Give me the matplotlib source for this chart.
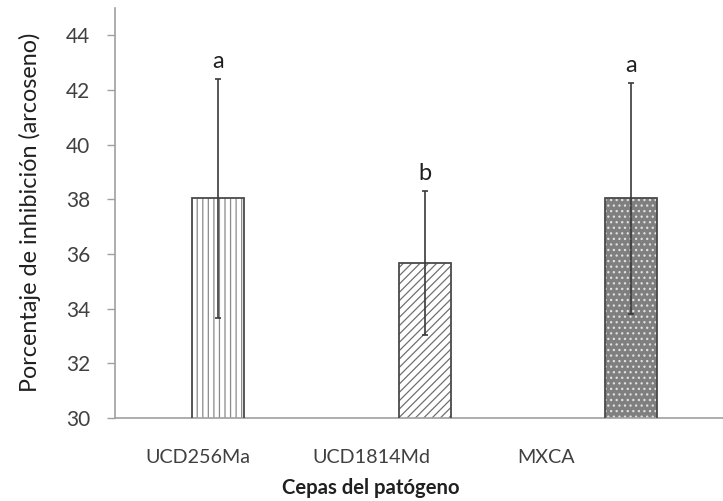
import matplotlib
matplotlib.use("Agg")
import matplotlib.pyplot as plt

categories = ["UCD256Ma", "UCD1814Md", "MXCA"]
means = [38.04, 35.67, 38.04]
errors = [4.37, 2.62, 4.22]
letters = ["a", "b", "a"]
yticks = [30, 32, 34, 36, 38, 40, 42, 44]

plt.rcParams['font.family'] = ['Lato', 'DejaVu Sans']
plt.rcParams['hatch.linewidth'] = 0.9

fig = plt.figure(figsize=(7.23, 5.01), dpi=100)
ax = fig.add_axes([115/723, 83/501, 619.5/723, 410/501])

x = list(range(len(categories)))
faces = ["white", "white", "#7f7f7f"]
hatchcols = ["#8a8a8a", "#707070", "#e0e0e0"]
hatches = ["|||", "////", "..."]
width = 0.252
for i in x:
    ax.bar(i, means[i], width=width, bottom=0, color=faces[i], edgecolor=hatchcols[i],
           hatch=hatches[i], linewidth=0, zorder=2)
    ax.bar(i, means[i], width=width, color="none", edgecolor="#4a4a4a", linewidth=1.3, zorder=3)
ax.errorbar(x, means, yerr=errors, fmt="none", ecolor="#3a3a3a", elinewidth=1.2,
            capsize=2.5, capthick=1.2, zorder=4)
for i in x:
    ax.text(i, means[i] + errors[i] + 0.65, letters[i], ha="center", va="center",
            fontsize=17, color="#202020")

ax.set_ylim(30, 45)
ax.set_xlim(-0.5, 2.5)
ax.set_yticks(yticks)
ax.tick_params(axis="y", length=6, width=1, color="#a0a0a0", pad=12,
               labelsize=15, labelcolor="#404040")
label_x = [-0.098, 0.74, 1.587]
ax.set_xticks(label_x, categories)
ax.tick_params(axis="x", length=0, pad=22, labelsize=14.2, labelcolor="#404040")
for s in ["top", "right"]:
    ax.spines[s].set_visible(False)
for s in ["left", "bottom"]:
    ax.spines[s].set_color("#a0a0a0")
    ax.spines[s].set_linewidth(1.2)

fig.text(371/723, 1 - 488/501, "Cepas del patógeno", ha="center", va="center",
         fontsize=14.6, fontweight="bold", color="#202020")
fig.text(30/723, 1 - 212/501, "Porcentaje de inhibición (arcoseno)", ha="center",
         va="center", rotation=90, fontsize=16.8, color="#202020")

fig.savefig("out.png", dpi=100)
